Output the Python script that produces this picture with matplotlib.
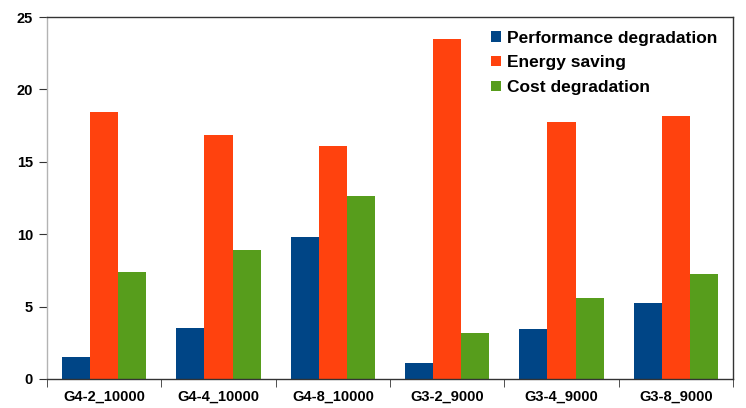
import numpy as np
import matplotlib.pyplot as plt
from matplotlib.ticker import FixedLocator

plt.rcParams['font.family'] = 'Liberation Sans'
plt.rcParams['font.weight'] = 'bold'

groups = ['G4-2_10000', 'G4-4_10000', 'G4-8_10000', 'G3-2_9000', 'G3-4_9000', 'G3-8_9000']
perf = [1.52, 3.52, 9.8, 1.1, 3.45, 5.25]
energy = [18.44, 16.85, 16.1, 23.48, 17.75, 18.16]
cost = [7.39, 8.9, 12.64, 3.18, 5.6, 7.25]

series = [('Performance degradation', perf, '#004586'),
          ('Energy saving', energy, '#ff420e'),
          ('Cost degradation', cost, '#579d1c')]

fig = plt.figure(figsize=(7.46, 4.08), dpi=100)
ax = fig.add_axes([47/746, 29/408, 686/746, 362/408])

x = np.arange(len(groups))
w = 0.245
for i, (name, vals, col) in enumerate(series):
    ax.bar(x + (i - 1) * w, vals, w, color=col, label=name)

ax.set_xlim(-0.5, len(groups) - 0.5)
ax.set_ylim(0, 25)
ax.set_yticks(range(0, 26, 5))
ax.set_xticks(x)
ax.set_xticklabels(groups)
ax.xaxis.set_minor_locator(FixedLocator(np.arange(-0.5, len(groups), 1)))
ax.tick_params(axis='x', which='major', length=0, pad=8, labelsize=10.5)
ax.tick_params(axis='x', which='minor', length=6, color='#333333')
ax.tick_params(axis='y', length=6, labelsize=10.5, color='#333333', pad=4)
for s in ax.spines.values():
    s.set_color('#333333')
    s.set_linewidth(1)
ax.spines['left'].set_color('#b3b3b3')

leg = ax.legend(loc='upper right', frameon=False, handlelength=0.55, handleheight=0.55,
                handletextpad=0.35, labelspacing=0.55, fontsize=12.5,
                bbox_to_anchor=(1.0, 1.005))

fig.savefig('out.png', dpi=100)
